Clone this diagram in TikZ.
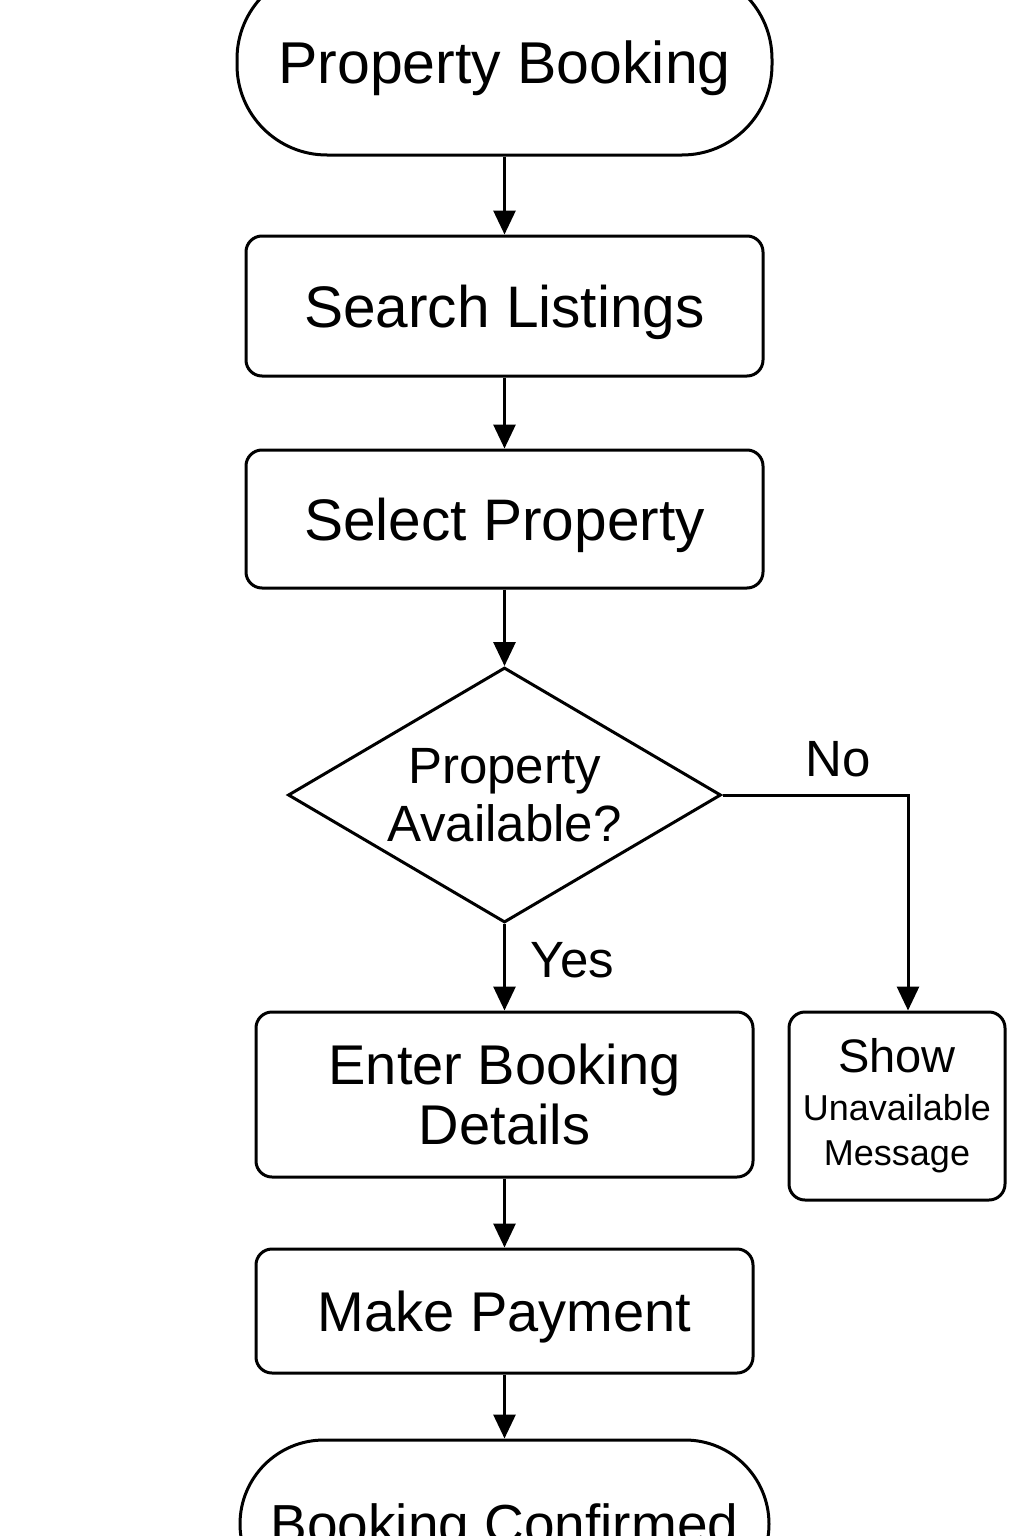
\documentclass[tikz,border=0pt]{standalone}
\usepackage{fontspec}
\setmainfont{Liberation Sans}
\usetikzlibrary{shapes.geometric, arrows.meta}
\tikzset{
->, % every connector gets a head
>={Triangle[length=12pt, width=11pt]}, % solid filled heads
terminal/.style={draw, rounded corners=45pt, minimum width=267.5pt, minimum height=93pt, text depth=0pt, font=\fontsize{29.5}{34}\selectfont}, % start and end ovals
process/.style={draw, rounded corners=8pt, align=center, font=\fontsize{28}{30}\selectfont}, % ordinary steps
decision/.style={draw, diamond, aspect=1.7, inner sep=0pt, minimum width=216.5pt, minimum height=127.5pt, align=center, font=\fontsize{25.5}{29}\selectfont}, % the yes/no test
answer/.style={font=\fontsize{25.5}{28}\selectfont}, % text on the branches
}

\begin{document}
\begin{tikzpicture}[x=0.5pt, y=-0.5pt, line width=1.5pt]
    \useasboundingbox (0,0) rectangle (1024,1536);
    \clip (0,0) rectangle (1024,1536);
    \node[terminal] (start) at (504.5,62) {Property Booking};
    \node[process, below of=start, node distance=122pt, minimum width=258.5pt, minimum height=70pt, text depth=0pt, font=\fontsize{29.3}{32}\selectfont] (search) {Search Listings};
    \node[process, below of=search, node distance=106.5pt, minimum width=258.5pt, minimum height=69pt, text depth=0pt, font=\fontsize{29.3}{32}\selectfont] (select) {Select Property};
    \node[decision, below of=select, node distance=138pt] (avail) {Property\\Available?};
    \node[process, below of=avail, node distance=149.75pt, minimum width=248.5pt, minimum height=82.5pt] (details) {Enter Booking\\Details};
    \node[process, right of=details, node distance=196.25pt, yshift=-5.75pt, minimum width=108pt, minimum height=94pt, font=\fontsize{18}{22.5}\selectfont] (show) {{\fontsize{23.5}{26}\selectfont Show}\\[1.5pt]Unavailable\\Message};
    \node[process, below of=details, node distance=108.25pt, minimum width=248.5pt, minimum height=62pt, text depth=0pt] (payment) {Make Payment};
    \node[terminal, below of=payment, node distance=106.5pt, minimum width=264.5pt, minimum height=84pt, rounded corners=42pt, font=\fontsize{27.5}{32}\selectfont] (done) {Booking Confirmed};
    \draw
    (start) -- (search);
    \draw (search) -- (select);
    \draw (select) -- (avail);
    \draw (avail) -- node[answer, right, xshift=9pt, yshift=3.5pt]{Yes} (details);
    \draw (avail) -| node[answer, above, pos=0.25, xshift=11.5pt, yshift=5pt]{No} ([xshift=5.5pt]show.north);
    \draw (details) -- (payment);
    \draw (payment) -- (done);
  \end{tikzpicture}
\end{document}
